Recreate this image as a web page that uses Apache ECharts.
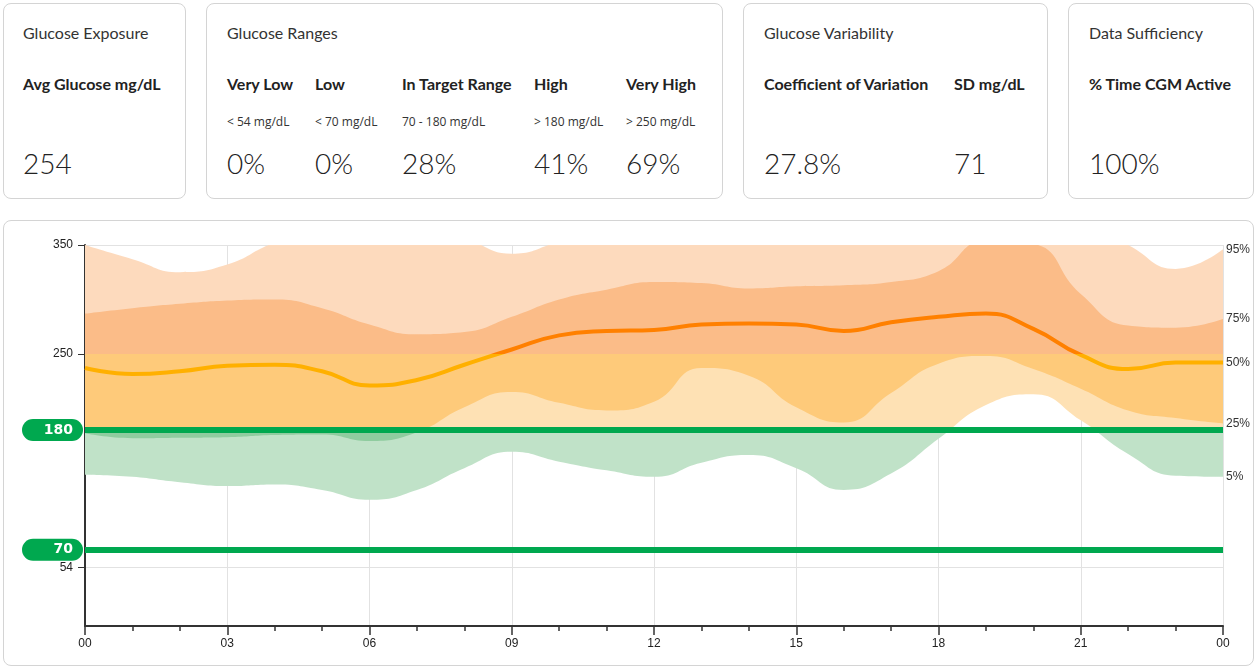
<!DOCTYPE html>
<html>
<head>
<meta charset="utf-8">
<script src="https://cdn.jsdelivr.net/npm/echarts@6/dist/echarts.min.js"></script>
<style>
  html, body { margin: 0; padding: 0; background: #fff; }
  body { width: 1257px; height: 669px; position: relative; overflow: hidden; font-family: Lato, "Open Sans", sans-serif; color: #222; }
  .card { position: absolute; border: 1px solid #d4d4d4; border-radius: 8px; box-sizing: border-box; background: #fff; }
  .txt { position: absolute; white-space: nowrap; }
  .title { font-size: 16px; line-height: 20px; font-weight: 400; color: #333; }
  .head { font-size: 16px; line-height: 20px; font-weight: 700; color: #222; }
  .small { font-family: "Open Sans", Lato, sans-serif; font-size: 12px; line-height: 14px; font-weight: 400; color: #333; }
  .big { font-size: 28px; line-height: 34px; font-weight: 300; color: #222; }
  #panel { position: absolute; left: 3px; top: 220px; width: 1251px; height: 446px; border: 1px solid #d4d4d4; border-radius: 8px; box-sizing: border-box; }
  #chart { position: absolute; left: 0; top: 0; width: 1249px; height: 444px; }
</style>
</head>
<body>
<div id="panel"><div id="chart"></div></div>
<script>
// ---------- summary card data ----------
const cardTitles = ['Glucose Exposure', 'Glucose Ranges', 'Glucose Variability', 'Data Sufficiency'];
const exposureNames = ['Avg Glucose mg/dL'];
const exposureValues = ['254'];
const rangeNames = ['Very Low', 'Low', 'In Target Range', 'High', 'Very High'];
const rangeLimits = ['< 54 mg/dL', '< 70 mg/dL', '70 - 180 mg/dL', '> 180 mg/dL', '> 250 mg/dL'];
const rangeValues = ['0%', '0%', '28%', '41%', '69%'];
const variabilityNames = ['Coefficient of Variation', 'SD mg/dL'];
const variabilityValues = ['27.8%', '71'];
const sufficiencyNames = ['% Time CGM Active'];
const sufficiencyValues = ['100%'];

// ---------- AGP chart data (hour of day 0..24) ----------
const hours = ['0','1','2','3','4','5','6','7','8','9','10','11','12','13','14','15','16','17','18','19','20','21','22','23','24'];
const p5  = [139, 137, 132, 128.5, 130, 125, 116, 125, 145, 160, 151, 143, 137, 150, 157, 145, 125, 140, 172, 203, 213, 189, 158, 138, 137];
const p25 = [177, 172.5, 173, 173.5, 175.5, 176, 170, 178, 201, 215, 205, 198, 206, 237, 230, 201, 187, 214, 241, 248, 236, 218, 198, 191, 186];
const p50 = [237, 231.5, 234, 239, 240, 234, 221, 226, 240, 254, 267, 271, 272, 277, 278, 277, 271, 279, 284, 287, 273, 249, 236, 242, 242];
const p75 = [287, 292, 296, 299, 300, 292, 277, 268, 270, 284, 300, 309, 316, 315, 310, 312, 313, 316, 326, 354, 351, 305, 276, 274, 282];
const p95 = [350, 337, 325, 332, 352, 362, 368, 366, 356, 342, 353, 365, 372, 375, 375, 376, 378, 385, 392, 395, 390, 372, 350, 328, 346];
const percentileLabels = ['5%', '25%', '50%', '75%', '95%'];
const xTickLabels = ['00', '03', '06', '09', '12', '15', '18', '21', '00'];
const yTickValues = [54, 250, 350];
const targetLines = [180, 70];
const rangeThresholds = [180, 250];

// ---------- build cards ----------
function addBox(left, width) {
  const d = document.createElement('div');
  d.className = 'card';
  d.style.left = left + 'px'; d.style.top = '3px';
  d.style.width = width + 'px'; d.style.height = '196px';
  document.body.appendChild(d);
}
function addText(cls, text, left, top) {
  const d = document.createElement('div');
  d.className = 'txt ' + cls;
  d.textContent = text;
  d.style.left = left + 'px'; d.style.top = top + 'px';
  document.body.appendChild(d);
}
const boxes = [[3, 183], [206, 517], [743, 305], [1068, 186]];
boxes.forEach(b => addBox(b[0], b[1]));
const titleX = [23, 227, 764, 1089];
cardTitles.forEach((t, i) => addText('title', t, titleX[i], 23));
const TOP_HEAD = 74, TOP_SMALL = 115, TOP_BIG = 146;
exposureNames.forEach((t, i) => { addText('head', t, 23, TOP_HEAD); addText('big', exposureValues[i], 23, TOP_BIG); });
const rangeX = [227, 315, 402, 534, 626];
rangeNames.forEach((t, i) => {
  addText('head', t, rangeX[i], TOP_HEAD);
  addText('small', rangeLimits[i], rangeX[i], TOP_SMALL);
  addText('big', rangeValues[i], rangeX[i], TOP_BIG);
});
const varX = [764, 954];
variabilityNames.forEach((t, i) => { addText('head', t, varX[i], TOP_HEAD); addText('big', variabilityValues[i], varX[i], TOP_BIG); });
sufficiencyNames.forEach((t, i) => { addText('head', t, 1089, TOP_HEAD); addText('big', sufficiencyValues[i], 1089, TOP_BIG); });

// ---------- chart ----------
const diff = (a, b) => a.map((v, i) => v - b[i]);

const COLORS = {
  outer: ['#C0E2C8', '#FEE1B4', '#FDDABD'],
  inner: ['#8FCC9F', '#FECA7A', '#FBBC88'],
  median: ['#FFB000', '#FFB000', '#FF8000']
};
function pieces(c) {
  return [
    { lt: rangeThresholds[0], color: c[0] },
    { gte: rangeThresholds[0], lt: rangeThresholds[1], color: c[1] },
    { gte: rangeThresholds[1], color: c[2] }
  ];
}
const FONT = 'Arial, "Liberation Sans", sans-serif';
const endLabel = txt => ({
  show: true, formatter: txt, distance: 3, color: '#333', fontSize: 12, fontFamily: FONT
});
const hidden = { width: 0, opacity: 0 };

const chart = echarts.init(document.getElementById('chart'), null, { renderer: 'canvas' });
chart.setOption({
  animation: false,
  grid: { left: 81, right: 30, top: 24, bottom: 39, containLabel: false },
  xAxis: [
    { // major ticks, labels and grid lines every 3 hours
      type: 'category', data: hours, boundaryGap: false, position: 'bottom',
      axisLine: { lineStyle: { color: '#333', width: 2 } },
      axisTick: { show: true, interval: 2, length: 9, lineStyle: { color: '#333', width: 1.5 } },
      axisLabel: {
        interval: 2, color: '#222', fontSize: 12, margin: 12, fontFamily: FONT,
        formatter: (v, idx) => xTickLabels[Math.round(idx / 3)]
      },
      splitLine: { show: true, interval: 2, lineStyle: { color: '#e2e2e2', width: 1 } }
    },
    { // hourly minor ticks
      type: 'category', data: hours, boundaryGap: false, position: 'bottom',
      axisLine: { show: false },
      axisTick: { show: true, interval: 0, length: 5, lineStyle: { color: '#333', width: 1.5 } },
      axisLabel: { show: false },
      splitLine: { show: false }
    }
  ],
  yAxis: {
    type: 'value', min: 0, max: 350,
    axisLine: { show: true, onZero: false, lineStyle: { color: '#333', width: 2 } },
    axisTick: { show: true, length: 7, customValues: yTickValues, lineStyle: { color: '#333', width: 1 } },
    axisLabel: { customValues: yTickValues, color: '#222', fontSize: 12, margin: 12, fontFamily: FONT },
    splitLine: { show: true, lineStyle: { color: '#e2e2e2', width: 1 } }
  },
  visualMap: [
    { type: 'piecewise', show: false, seriesIndex: 1, dimension: 1, pieces: pieces(COLORS.outer) },
    { type: 'piecewise', show: false, seriesIndex: 3, dimension: 1, pieces: pieces(COLORS.inner) },
    { type: 'piecewise', show: false, seriesIndex: 4, dimension: 1, pieces: pieces(COLORS.median) }
  ],
  series: [
    { name: 'p5', type: 'line', stack: 'outer', smooth: true, showSymbol: false, silent: true,
      data: p5, lineStyle: hidden, color: '#C0E2C8', endLabel: endLabel(percentileLabels[0]), z: 1 },
    { name: 'p5-p95', type: 'line', stack: 'outer', smooth: true, showSymbol: false, silent: true,
      data: diff(p95, p5), lineStyle: hidden, areaStyle: { opacity: 1 }, endLabel: endLabel(percentileLabels[4]), z: 1 },
    { name: 'p25', type: 'line', stack: 'inner', smooth: true, showSymbol: false, silent: true,
      data: p25, lineStyle: hidden, color: '#8FCC9F', endLabel: endLabel(percentileLabels[1]), z: 2 },
    { name: 'p25-p75', type: 'line', stack: 'inner', smooth: true, showSymbol: false, silent: true,
      data: diff(p75, p25), lineStyle: hidden, areaStyle: { opacity: 1 }, endLabel: endLabel(percentileLabels[3]), z: 2 },
    { name: 'median', type: 'line', smooth: true, showSymbol: false, silent: true,
      data: p50, lineStyle: { width: 4 }, endLabel: endLabel(percentileLabels[2]), z: 3,
      markLine: {
        silent: true, symbol: ['none', 'none'], animation: false,
        lineStyle: { color: '#00A84F', width: 6, type: 'solid' },
        label: {
          show: true, position: 'start', distance: 2,
          formatter: p => String(p.value),
          color: '#fff', fontWeight: 'bold', fontSize: 14, fontFamily: '"DejaVu Sans", Verdana, sans-serif',
          backgroundColor: '#00A84F', borderRadius: 11, padding: [3, 10, 3, 8], width: 43, align: 'right', lineHeight: 16
        },
        data: targetLines.map(v => ({ yAxis: v }))
      }
    }
  ]
});
</script>
</body>
</html>
